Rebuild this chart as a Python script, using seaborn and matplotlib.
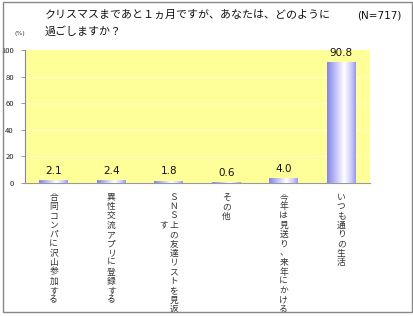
import numpy as np
import pandas as pd
import matplotlib
matplotlib.use("Agg")
import matplotlib.pyplot as plt
import seaborn as sns
from matplotlib.colors import LinearSegmentedColormap
from matplotlib.patches import Rectangle

categories = ["合同コンパに沢山参加する", "異性交流アプリに登録する", "ＳＮＳ上の友達リストを見返す",
              "その他", "今年は見送り、来年にかける", "いつも通りの生活"]
values = [2.1, 2.4, 1.8, 0.6, 4.0, 90.8]
value_labels = ["2.1", "2.4", "1.8", "0.6", "4.0", "90.8"]
title_lines = ["クリスマスまであと１ヵ月ですが、あなたは、どのように", "過ごしますか？"]
n_label = "(N=717)"
y_ticks = [0, 20, 40, 60, 80, 100]

sns.set_theme(style="white")
plt.rcParams['font.family'] = ['Noto Sans CJK JP', 'DejaVu Sans']

fig = plt.figure(figsize=(4.13, 3.16), dpi=100)
fig.patch.set_facecolor("white")
ax = fig.add_axes([25/413, 1-183/316, 345/413, 133/316])

df = pd.DataFrame({"cat": categories, "val": values})
sns.barplot(data=df, x="cat", y="val", ax=ax, width=0.5, color="#9999ee", saturation=1, linewidth=0)

ax.set_facecolor("#ffff99")
ax.set_ylim(0, 100)
ax.set_xlim(-0.5, 5.5)
ax.set_yticks(y_ticks)
ax.set_yticklabels([str(t) for t in y_ticks], fontsize=5.5, color="#222222")
ax.tick_params(axis="y", length=3, width=0.6, color="#888888", pad=5, direction="out", left=True)
ax.tick_params(axis="x", length=0, labelbottom=False)
ax.set_xlabel("")
ax.set_ylabel("")
for yv in y_ticks[1:-1]:
    ax.axhline(yv, color="#ffffc4", lw=0.8, zorder=0.5)
for s in ["top", "right"]:
    ax.spines[s].set_visible(False)
ax.spines["left"].set_color("#888888")
ax.spines["bottom"].set_color("#999999")
ax.spines["left"].set_linewidth(0.8)
ax.spines["bottom"].set_linewidth(0.8)

# gradient fill on bars
cmap = LinearSegmentedColormap.from_list(
    "cyl", [(0.0, (0.52, 0.52, 0.90)), (0.35, (0.80, 0.80, 0.98)),
            (0.6, (1.0, 1.0, 1.0)), (0.85, (0.80, 0.80, 0.98)), (1.0, (0.60, 0.60, 0.93))])
grad = np.linspace(0, 1, 64).reshape(1, -1)
for p in ax.patches:
    x0, y0 = p.get_x(), p.get_y()
    w, h = p.get_width(), p.get_height()
    if h <= 0:
        continue
    hh = max(h, 0.8)
    im = ax.imshow(grad, cmap=cmap, aspect="auto", extent=[x0, x0 + w, y0, y0 + hh],
                   zorder=3, interpolation="bilinear")
    clip = Rectangle((x0, y0), w, hh, transform=ax.transData)
    im.set_clip_path(clip)
ax.set_xlim(-0.5, 5.5)
ax.set_ylim(0, 100)

# value labels
for i, (v, lab) in enumerate(zip(values, value_labels)):
    ax.annotate(lab, xy=(i, v), xytext=(0, 3), textcoords="offset points",
                ha="center", va="bottom", fontsize=7.5, color="#111111",
                family=['DejaVu Sans'])

# vertical x labels
def vlabel(x, text, dx=0, row=0):
    ax.annotate("\n".join(text), xy=(x, 0), xycoords=("data", "axes fraction"),
                xytext=(dx, -7 - row * 6.6), textcoords="offset points",
                ha="center", va="top", fontsize=6.3, color="#333333", linespacing=1.05,
                annotation_clip=False)

for i, c in enumerate(categories):
    if i == 2:
        vlabel(i, c[:-1], dx=3.6)
        vlabel(i, c[-1], dx=-3.6, row=3)
    else:
        vlabel(i, c)

# titles
fig.text(45/413, 1-15/316, title_lines[0], fontsize=7.9, va="center", ha="left", color="#111111")
fig.text(45/413, 1-32/316, title_lines[1], fontsize=7.9, va="center", ha="left", color="#111111")
fig.text(402/413, 1-16/316, n_label, fontsize=7.5, va="center", ha="right", color="#111111",
         family=['DejaVu Sans'])
fig.text(20/413, 1-33/316, "(%)", fontsize=4.5, va="center", ha="center", color="#333333",
         family=['DejaVu Sans'])

# outer border
fig.add_artist(Rectangle((3/413, 1-312/316), 409/413, 310/316, transform=fig.transFigure,
                         fill=False, edgecolor="#888888", lw=1.0))

fig.savefig("out.png", dpi=100)
